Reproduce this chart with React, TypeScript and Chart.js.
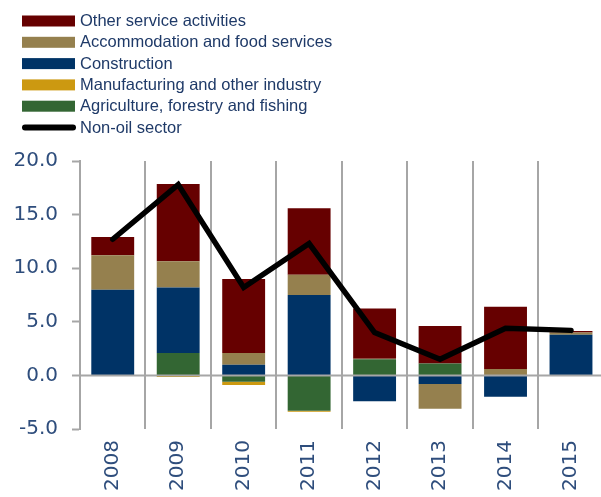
import React, { useEffect, useRef } from "react";
import { Chart, registerables } from "chart.js";

Chart.register(...registerables);

const years = ["2008", "2009", "2010", "2011", "2012", "2013", "2014", "2015"];
const agriculture = [0, 2.1, -0.6, -3.3, 1.5, 1.1, 0, 0];
const manufacturing = [0, -0.15, -0.3, -0.1, 0, 0, 0, 0];
const construction = [8.0, 6.1, 1.0, 7.5, -2.4, -0.8, -2.0, 3.8];
const accommodation = [3.2, 2.45, 1.1, 1.9, 0.05, -2.3, 0.6, 0.2];
const otherServices = [1.7, 7.2, 6.9, 6.2, 4.7, 3.5, 5.8, 0.15];
const nonOil = [12.7, 17.8, 8.2, 12.3, 4.0, 1.5, 4.4, 4.2];
const yTicks = [-5, 0, 5, 10, 15, 20];

const GRID = "#a6a6a6";
const LABEL = "#2e4d7c";
const LEGEND_TEXT = "#1f3a68";

const legendOrder = [
  { label: "Other service activities", color: "#660000", line: false },
  { label: "Accommodation and food services", color: "#95804e", line: false },
  { label: "Construction", color: "#003366", line: false },
  { label: "Manufacturing and other industry", color: "#cc9911", line: false },
  { label: "Agriculture, forestry and fishing", color: "#336633", line: false },
  { label: "Non-oil sector", color: "#000000", line: true },
];

const legendPlugin = {
  id: "customLegend",
  afterDraw(chart: any) {
    const ctx = chart.ctx;
    ctx.save();
    ctx.font = "16.5px 'Liberation Sans', Arial, sans-serif";
    ctx.textBaseline = "middle";
    legendOrder.forEach((item, i) => {
      const y = 21 + i * 21.3;
      if (item.line) {
        ctx.strokeStyle = item.color;
        ctx.lineWidth = 6;
        ctx.lineCap = "round";
        ctx.beginPath();
        ctx.moveTo(25, y);
        ctx.lineTo(73, y);
        ctx.stroke();
      } else {
        ctx.fillStyle = item.color;
        ctx.fillRect(22, y - 5.5, 53, 11);
      }
      ctx.fillStyle = LEGEND_TEXT;
      ctx.fillText(item.label, 80, y + 0.5);
    });
    ctx.restore();
  },
};

const zeroLinePlugin = {
  id: "zeroLine",
  afterDatasetsDraw(chart: any) {
    const y = chart.scales.y.getPixelForValue(0);
    const { left, right } = chart.chartArea;
    const ctx = chart.ctx;
    ctx.save();
    ctx.strokeStyle = GRID;
    ctx.lineWidth = 2;
    ctx.beginPath();
    ctx.moveTo(left, y);
    ctx.lineTo(right, y);
    ctx.stroke();
    ctx.restore();
  },
};

export default function App() {
  const ref = useRef<HTMLCanvasElement | null>(null);

  useEffect(() => {
    if (!ref.current) return;
    const barCommon = {
      type: "bar" as const,
      stack: "bars",
      order: 1,
      barPercentage: 0.655,
      categoryPercentage: 1,
      borderWidth: 0,
    };
    const chart = new Chart(ref.current, {
      type: "bar",
      data: {
        labels: years,
        datasets: [
          {
            type: "line",
            label: "Non-oil sector",
            data: nonOil,
            stack: "line",
            order: 0,
            borderColor: "#000000",
            borderWidth: 5.5,
            borderCapStyle: "round",
            pointRadius: 0,
            fill: false,
            tension: 0,
          } as any,
          { ...barCommon, label: "Agriculture, forestry and fishing", data: agriculture, backgroundColor: "#336633" },
          { ...barCommon, label: "Manufacturing and other industry", data: manufacturing, backgroundColor: "#cc9911" },
          { ...barCommon, label: "Construction", data: construction, backgroundColor: "#003366" },
          { ...barCommon, label: "Accommodation and food services", data: accommodation, backgroundColor: "#95804e" },
          { ...barCommon, label: "Other service activities", data: otherServices, backgroundColor: "#660000" },
        ],
      },
      options: {
        animation: false,
        responsive: false,
        maintainAspectRatio: false,
        layout: { padding: { top: 161, right: 0, bottom: 0, left: 0 } },
        plugins: {
          legend: { display: false },
          tooltip: { enabled: false },
        },
        scales: {
          x: {
            stacked: true,
            offset: true,
            grid: {
              offset: true,
              color: GRID,
              lineWidth: 2,
              drawTicks: false,
            },
            border: { display: false },
            ticks: {
              autoSkip: false,
              maxRotation: 90,
              minRotation: 90,
              padding: 11,
              color: LABEL,
              font: { family: "'DejaVu Sans', Verdana, sans-serif", size: 20 },
            },
            afterFit(scale: any) {
              scale.height = 68;
            },
          },
          y: {
            stacked: true,
            min: -5,
            max: 20,
            afterBuildTicks(scale: any) {
              scale.ticks = yTicks.map((v) => ({ value: v }));
            },
            grid: {
              drawOnChartArea: false,
              drawTicks: true,
              tickLength: 8,
              tickColor: GRID,
              tickWidth: 2,
              color: GRID,
            },
            border: { display: true, color: GRID, width: 2 },
            ticks: {
              padding: 14,
              color: LABEL,
              font: { family: "'DejaVu Sans', Verdana, sans-serif", size: 20 },
              callback: (v: any) => Number(v).toFixed(1),
            },
            afterFit(scale: any) {
              scale.width = 80;
            },
          },
        },
      },
      plugins: [legendPlugin, zeroLinePlugin],
    } as any);
    return () => chart.destroy();
  }, []);

  return (
    <div
      style={{
        position: "fixed",
        left: 0,
        top: 0,
        width: 601,
        height: 497,
        overflow: "hidden",
        background: "#ffffff",
      }}
    >
      <canvas ref={ref} width={606} height={497} style={{ display: "block", width: 606, height: 497 }} />
    </div>
  );
}
